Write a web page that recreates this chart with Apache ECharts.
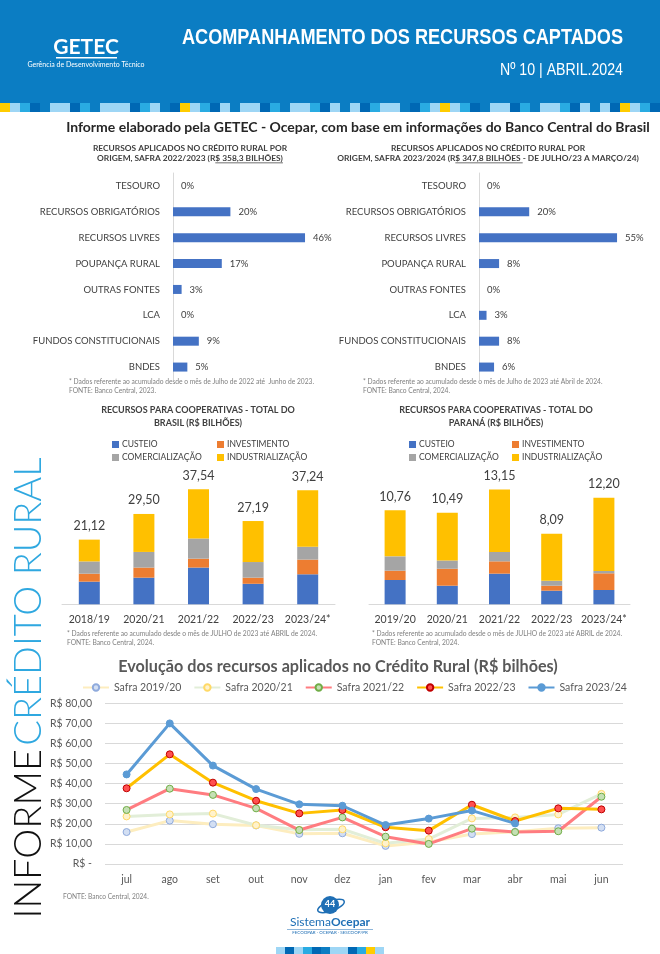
<!DOCTYPE html>
<html><head><meta charset="utf-8">
<script src="https://cdn.jsdelivr.net/npm/echarts@6/dist/echarts.min.js"></script>
<style>html,body{margin:0;padding:0;background:#fff}#c{width:660px;height:954px}</style>
</head><body><div id="c"></div>
<script>
// ---------- DATA ----------
const originCats = ['TESOURO','RECURSOS OBRIGATÓRIOS','RECURSOS LIVRES','POUPANÇA RURAL','OUTRAS FONTES','LCA','FUNDOS CONSTITUCIONAIS','BNDES'];
const origin2223 = [0,20,46,17,3,0,9,5];
const origin2324 = [0,20,55,8,0,3,8,6];

const stackNames = ['CUSTEIO','INVESTIMENTO','COMERCIALIZAÇÃO','INDUSTRIALIZAÇÃO'];
const brYears = ['2018/19','2020/21','2021/22','2022/23','2023/24*'];
const brCusteio = [7.4, 8.7, 12.0, 6.7, 9.8];
const brInvest  = [2.6, 3.3, 2.9, 2.0, 4.8];
const brComerc  = [4.0, 5.1, 6.6, 5.1, 4.2];
const brIndust  = [7.12, 12.4, 16.04, 13.39, 18.44];
const brTotal   = [21.12, 29.50, 37.54, 27.19, 37.24];

const prYears = ['2019/20','2020/21','2021/22','2022/23','2023/24*'];
const prCusteio = [2.78, 2.13, 3.51, 1.56, 1.64];
const prInvest  = [1.07, 1.94, 1.41, 0.57, 1.91];
const prComerc  = [1.64, 0.95, 1.07, 0.57, 0.27];
const prIndust  = [5.27, 5.47, 7.16, 5.39, 8.38];
const prTotal   = [10.76, 10.49, 13.15, 8.09, 12.20];

const months = ['jul','ago','set','out','nov','dez','jan','fev','mar','abr','mai','jun'];
const safraNames = ['Safra 2019/20','Safra 2020/21','Safra 2021/22','Safra 2022/23','Safra 2023/24'];
const s1920 = [15.9, 21.6, 19.8, 19.2, 15.0, 15.3, 9.0, 11.0, 14.9, 16.0, 17.8, 18.1];
const s2021 = [23.7, 24.7, 25.1, 19.3, 17.0, 17.3, 10.3, 12.4, 22.7, 23.2, 24.7, 34.9];
const s2122 = [26.9, 37.5, 34.4, 27.7, 16.9, 23.2, 13.6, 10.0, 17.6, 15.9, 16.3, 33.5];
const s2223 = [37.7, 54.6, 40.5, 31.5, 25.2, 26.9, 18.3, 16.6, 29.5, 21.4, 27.7, 27.2];
const s2324 = [44.6, 70.0, 49.0, 37.3, 29.7, 29.0, 19.4, 22.6, 26.6, 20.2, null, null];
const yTicks = [0,10,20,30,40,50,60,70,80];

// ---------- STYLE ----------
const F = "Lato, 'Open Sans', sans-serif";
const HF = "'Liberation Sans', Arial, sans-serif";
const TXT = '#404040';
const stackColors = ['#4472C4','#ED7D31','#A5A5A5','#FFC000'];
const fmtBR = v => v.toFixed(2).replace('.', ',');
const mctx = document.createElement('canvas').getContext('2d');
function tw(text, font){ mctx.font = font; return mctx.measureText(text).width; }

const chart = echarts.init(document.getElementById('c'), null, {renderer:'canvas', width:660, height:954});

// decorative strip pattern
const stripPat = 'YLMDBLLDMBLLLDMLBDYLMDLBLLDMBLLMDLBLDMLLBDMLYLMDBLLDMBLLMDLBLDYLMD';
const stripCol = {Y:'#FFCC00', L:'#9ED6F5', M:'#29ABE2', D:'#0068B4', B:'#0B7DC3'};
const graphics = [];
graphics.push({type:'rect', shape:{x:0,y:0,width:660,height:103}, style:{fill:'#0B7DC3'}, z:-1});
for (let i=0;i<stripPat.length;i++){
  graphics.push({type:'rect', shape:{x:i*10,y:103,width:10,height:9}, style:{fill:stripCol[stripPat[i]]}});
}
const hTitle = 'ACOMPANHAMENTO DOS RECURSOS CAPTADOS', hFont = "bold 22px "+HF;
const hSub = 'Nº 10 | ABRIL.2024', hSubFont = "17px "+HF;
const t1L2 = 'ORIGEM, SAFRA 2022/2023 (R$ 358,3 BILHÕES)';
const t2L2 = 'ORIGEM, SAFRA 2023/2024 (R$ 347,8 BILHÕES - DE JULHO/23 A MARÇO/24)';
const tFont = "bold 8.4px "+F;
function underline(cx, y, full, pre, seg){
  const W = tw(full, tFont), P = tw(pre, tFont), U = tw(seg, tFont);
  return {type:'rect', shape:{x:cx - W/2 + P, y:y, width:U, height:0.8}, style:{fill:TXT}};
}
graphics.push(
  {type:'text', x:86, y:47, style:{text:'GETEC', fill:'#fff', font:"bold 21px "+F, align:'center', verticalAlign:'middle'}},
  {type:'rect', shape:{x:56,y:57,width:61,height:1.6}, style:{fill:'#fff'}},
  {type:'text', x:86, y:65, style:{text:'Gerência de Desenvolvimento Técnico', fill:'#fff', font:"7px "+F, align:'center', verticalAlign:'middle'}},
  {type:'text', x:623, y:38, scaleX:441/tw(hTitle,hFont), style:{text:hTitle, fill:'#fff', font:hFont, align:'right', verticalAlign:'middle'}},
  {type:'text', x:623, y:70, scaleX:123/tw(hSub,hSubFont), style:{text:hSub, fill:'#fff', font:hSubFont, align:'right', verticalAlign:'middle'}},
  {type:'text', x:358, y:127, style:{text:'Informe elaborado pela GETEC - Ocepar, com base em informações do Banco Central do Brasil', fill:'#262626', font:"bold 14px "+F, align:'center', verticalAlign:'middle'}},
  // top chart titles
  {type:'text', x:190, y:153, style:{text:'RECURSOS APLICADOS NO CRÉDITO RURAL POR\n'+t1L2, fill:TXT, font:tFont, align:'center', verticalAlign:'middle', lineHeight:10}},
  underline(190, 162.5, t1L2, 'ORIGEM, SAFRA 2022/2023 (R', '$ 358,3 BILHÕES)'),
  {type:'text', x:488, y:153, style:{text:'RECURSOS APLICADOS NO CRÉDITO RURAL POR\n'+t2L2, fill:TXT, font:tFont, align:'center', verticalAlign:'middle', lineHeight:10}},
  underline(488, 162.5, t2L2, 'ORIGEM, SAFRA 2023/2024 (R', '$ 347,8 BILHÕES '),
  {type:'text', x:69, y:378, style:{text:'* Dados referente ao acumulado desde o mês de Julho de 2022 até  Junho de 2023.\nFONTE: Banco Central, 2023.', fill:'#808080', font:"6.7px "+F, align:'left', verticalAlign:'top', lineHeight:8.5}},
  {type:'text', x:363, y:378, style:{text:'* Dados referente ao acumulado desde o mês de Julho de 2023 até Abril de 2024.\nFONTE: Banco Central, 2024.', fill:'#808080', font:"6.7px "+F, align:'left', verticalAlign:'top', lineHeight:8.5}},
  // stacked titles
  {type:'text', x:198, y:417, style:{text:'RECURSOS PARA COOPERATIVAS - TOTAL DO\nBRASIL (R$ BILHÕES)', fill:TXT, font:"bold 9px "+F, align:'center', verticalAlign:'middle', lineHeight:13}},
  {type:'text', x:496, y:417, style:{text:'RECURSOS PARA COOPERATIVAS - TOTAL DO\nPARANÁ (R$ BILHÕES)', fill:TXT, font:"bold 9px "+F, align:'center', verticalAlign:'middle', lineHeight:13}},
  {type:'text', x:67, y:630, style:{text:'* Dados referente ao acumulado desde o mês de JULHO de 2023 até ABRIL de 2024.\nFONTE: Banco Central, 2024.', fill:'#808080', font:"6.7px "+F, align:'left', verticalAlign:'top', lineHeight:8.5}},
  {type:'text', x:372, y:630, style:{text:'* Dados referente ao acumulado desde o mês de JULHO de 2023 até ABRIL de 2024.\nFONTE: Banco Central, 2024.', fill:'#808080', font:"6.7px "+F, align:'left', verticalAlign:'top', lineHeight:8.5}},
  // line title
  {type:'text', x:338, y:667, style:{text:'Evolução dos recursos aplicados no Crédito Rural (R$ bilhões)', fill:'#595959', font:"bold 16.2px "+F, align:'center', verticalAlign:'middle'}},
  {type:'text', x:63, y:897, style:{text:'FONTE: Banco Central, 2024.', fill:'#808080', font:"6.6px "+F, align:'left', verticalAlign:'middle'}},
  // vertical text
  {type:'text', x:29, y:688, rotation:Math.PI/2, style:{text:'{a|INFORME} {b|CRÉDITO RURAL}', align:'center', verticalAlign:'middle',
     rich:{a:{fill:'#111', font:"300 38px "+F}, b:{fill:'#2FA8E0', font:"300 38px "+F}}}},
  // footer logo
  {type:'circle', shape:{cx:330,cy:905,r:9}, style:{fill:'#1F6FB5'}},
  {type:'ellipse', shape:{cx:331,cy:906,rx:14,ry:5}, rotation:0.35, originX:331, originY:906, style:{fill:null, stroke:'#1F6FB5', lineWidth:1.5}},
  {type:'text', x:330, y:904, style:{text:'44', fill:'#fff', font:"bold 9px "+F, align:'center', verticalAlign:'middle'}},
  {type:'text', x:330, y:922, style:{text:'{a|Sistema}{b|Ocepar}', align:'center', verticalAlign:'middle', rich:{a:{fill:'#1F6FB5', font:"12px "+F}, b:{fill:'#1F6FB5', font:"bold 12px "+F}}}},
  {type:'rect', shape:{x:287,y:929,width:86,height:0.6}, style:{fill:'#1F6FB5'}},
  {type:'text', x:330, y:933, style:{text:'FECOOPAR · OCEPAR · SESCOOP/PR', fill:'#1F6FB5', font:"4.5px "+F, align:'center', verticalAlign:'middle'}}
);
const footPat = 'LDLMDBLLDMYL';
for (let i=0;i<footPat.length;i++){
  graphics.push({type:'rect', shape:{x:276+i*9,y:947,width:9,height:7}, style:{fill:stripCol[footPat[i]]}});
}

function originBar(idx, data){
  return {type:'bar', xAxisIndex:idx, yAxisIndex:idx, data:data, barWidth:9,
    itemStyle:{color:'#4472C4'},
    label:{show:true, position:'right', distance:8, formatter:'{c}%', color:TXT, fontFamily:F, fontSize:9.5}};
}
function stackSeries(idx, arrs, totals){
  return arrs.map((a,k)=>({type:'bar', name:stackNames[k], stack:'s'+idx, xAxisIndex:idx, yAxisIndex:idx, data:a, barWidth:21,
    itemStyle:{color:stackColors[k]},
    label: k===3 ? {show:true, position:'top', distance:7, color:TXT, fontFamily:F, fontSize:12.5, formatter:p=>fmtBR(totals[p.dataIndex])} : {show:false}
  }));
}
function stackLegends(x1,x2){
  const pos=[[x1,440],[x2,440],[x1,453],[x2,453]];
  return stackNames.map((n,k)=>({data:[n], left:pos[k][0], top:pos[k][1], icon:'rect', itemWidth:7, itemHeight:7, itemGap:4,
    selectedMode:false, textStyle:{color:TXT, fontFamily:F, fontSize:8.5, padding:[0,0,0,-2]}, padding:0}));
}
const catAxisOrigin = (idx)=>({type:'category', gridIndex:idx, data:originCats, inverse:true,
  axisLine:{show:true, lineStyle:{color:'#D9D9D9'}}, axisTick:{show:false},
  axisLabel:{color:TXT, fontFamily:F, fontSize:9.5, margin:13}});
const catAxisYears = (idx, data)=>({type:'category', gridIndex:idx, data:data, axisLine:{lineStyle:{color:'#D9D9D9'}}, axisTick:{show:false},
  axisLabel:{color:TXT, fontFamily:F, fontSize:10.5, margin:10, interval:0}});

const lineColors = ['#FDEDBF','#E2EED8','#FF7C80','#FFC000','#5B9BD5'];
const markFill = ['#D3DFF3','#FFF2CC','#C5E0B4','#FF5050','#5B9BD5'];
const markBorder = ['#8FAADC','#FFD966','#70AD47','#C00000','#5B9BD5'];
const safraData = [s1920, s2021, s2122, s2223, s2324];
const lineSeries = safraData.map((d,k)=>({type:'line', name:safraNames[k], xAxisIndex:4, yAxisIndex:4, data:d,
  symbol:'circle', symbolSize:7, showAllSymbol:true,
  lineStyle:{color:lineColors[k], width:3}, itemStyle:{color:markFill[k], borderColor:markBorder[k], borderWidth:1},
  emphasis:{disabled:true}, z:2+k}));

const option = {
  animation:false,
  backgroundColor:'#fff',
  graphic:graphics,
  grid:[
    {left:173, top:173, width:143.5, height:207},
    {left:479, top:173, width:150.6, height:207},
    {left:62, top:481.8, width:273, height:122.5},
    {left:369, top:473.3, width:261, height:131},
    {left:105, top:703.3, right:37, height:160.7}
  ],
  xAxis:[
    {type:'value', gridIndex:0, min:0, max:50, show:false},
    {type:'value', gridIndex:1, min:0, max:60, show:false},
    catAxisYears(2, brYears),
    catAxisYears(3, prYears),
    {type:'category', gridIndex:4, data:months, axisLine:{show:false}, axisTick:{show:false},
      axisLabel:{color:'#595959', fontFamily:F, fontSize:10.5, margin:10, interval:0}}
  ],
  yAxis:[
    catAxisOrigin(0), catAxisOrigin(1),
    {type:'value', gridIndex:2, min:0, max:40, show:false},
    {type:'value', gridIndex:3, min:0, max:15, show:false},
    {type:'value', gridIndex:4, min:yTicks[0], max:yTicks[yTicks.length-1], interval:10,
      axisLine:{show:false}, axisTick:{show:false},
      splitLine:{lineStyle:{color:'#D9D9D9'}},
      axisLabel:{color:'#595959', fontFamily:F, fontSize:10.5, margin:13,
        formatter:v=> v===0 ? 'R$ -' : 'R$ ' + fmtBR(v)}}
  ],
  legend:[
    ...stackLegends(112,217),
    ...stackLegends(409,512),
    {data:safraNames, left:82, top:682, itemWidth:26, itemHeight:8, itemGap:12, selectedMode:false, padding:0,
      textStyle:{color:'#595959', fontFamily:F, fontSize:10.5}}
  ],
  series:[
    originBar(0, origin2223),
    originBar(1, origin2324),
    ...stackSeries(2, [brCusteio, brInvest, brComerc, brIndust], brTotal),
    ...stackSeries(3, [prCusteio, prInvest, prComerc, prIndust], prTotal),
    ...lineSeries
  ]
};
chart.setOption(option);
</script></body></html>
